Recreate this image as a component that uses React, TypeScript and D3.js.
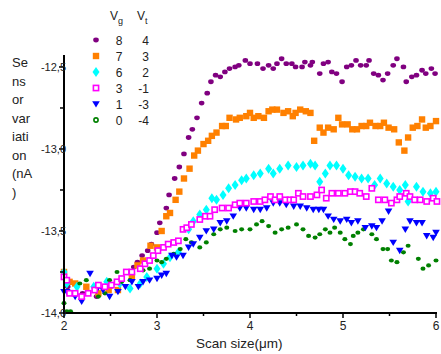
import React from "react";
import * as d3 from "d3";

const vgLabels = ["8", "7", "6", "3", "1", "0"];
const vtLabels = ["4", "3", "2", "-1", "-3", "-4"];
const yTicks = [-12.5, -13.0, -13.5, -14.0];
const yTickLabels = ["-12,5", "-13,0", "-13,5", "-14,0"];
const yMinorTicks = [-12.75, -13.25, -13.75];
const xTicks = [2, 3, 4, 5, 6];
const xMinorTicks = [2.5, 3.5, 4.5, 5.5];
const yTitleLines = ["Se", "ns", "or", "var", "iati", "on", "(nA", ")"];

const purple: [number, number][] = [
  [2.04, -13.84], [2.2, -13.88], [2.35, -13.9], [2.5, -13.84], [2.62, -13.79],
  [2.75, -13.72], [2.79, -13.69], [2.84, -13.65], [2.9, -13.62], [2.94, -13.58],
  [3.0, -13.51], [3.03, -13.45], [3.1, -13.36], [3.13, -13.28], [3.19, -13.18],
  [3.24, -13.11], [3.29, -13.03], [3.34, -12.93], [3.38, -12.88], [3.43, -12.81],
  [3.48, -12.72], [3.54, -12.66], [3.58, -12.59], [3.63, -12.55], [3.68, -12.56],
  [3.73, -12.53], [3.78, -12.51], [3.84, -12.5], [3.88, -12.49], [3.95, -12.46],
  [4.0, -12.48], [4.08, -12.48], [4.14, -12.51], [4.2, -12.49], [4.25, -12.51],
  [4.29, -12.48], [4.34, -12.45], [4.39, -12.48], [4.45, -12.48], [4.49, -12.5],
  [4.56, -12.5], [4.59, -12.47], [4.65, -12.49], [4.67, -12.47], [4.75, -12.54],
  [4.79, -12.48], [4.84, -12.47], [4.88, -12.53], [4.93, -12.54], [4.99, -12.59],
  [5.04, -12.5], [5.09, -12.49], [5.14, -12.46], [5.19, -12.49], [5.25, -12.49],
  [5.28, -12.46], [5.33, -12.54], [5.38, -12.55], [5.43, -12.58], [5.48, -12.54],
  [5.54, -12.49], [5.58, -12.45], [5.65, -12.5], [5.68, -12.59], [5.74, -12.56],
  [5.79, -12.55], [5.85, -12.52], [5.89, -12.54], [5.95, -12.51], [5.99, -12.54],
];

const orange: [number, number][] = [
  [2.0, -13.75], [2.06, -13.81], [2.12, -13.82], [2.24, -13.84], [2.37, -13.88],
  [2.48, -13.86], [2.58, -13.86], [2.73, -13.78], [2.79, -13.71], [2.85, -13.68],
  [2.93, -13.59], [3.0, -13.6], [3.05, -13.5], [3.1, -13.41], [3.14, -13.39],
  [3.2, -13.31], [3.24, -13.26], [3.29, -13.18], [3.35, -13.12], [3.4, -13.04],
  [3.44, -13.01], [3.5, -12.97], [3.55, -12.95], [3.59, -12.92], [3.64, -12.9],
  [3.7, -12.86], [3.74, -12.86], [3.78, -12.81], [3.85, -12.82], [3.89, -12.81],
  [3.96, -12.8], [4.0, -12.78], [4.04, -12.81], [4.09, -12.8], [4.15, -12.81],
  [4.2, -12.77], [4.24, -12.76], [4.29, -12.76], [4.36, -12.78], [4.41, -12.77],
  [4.46, -12.8], [4.49, -12.78], [4.54, -12.76], [4.6, -12.77], [4.65, -12.78],
  [4.69, -12.95], [4.75, -12.87], [4.79, -12.9], [4.84, -12.87], [4.9, -12.88],
  [4.95, -12.81], [4.99, -12.85], [5.05, -12.85], [5.1, -12.88], [5.15, -12.88],
  [5.2, -12.86], [5.25, -12.86], [5.29, -12.84], [5.35, -12.86], [5.4, -12.86],
  [5.44, -12.84], [5.49, -12.87], [5.55, -12.88], [5.6, -12.96], [5.66, -13.01],
  [5.7, -12.93], [5.75, -12.87], [5.8, -12.86], [5.85, -12.82], [5.89, -12.87],
  [5.94, -12.86], [6.0, -12.83],
];

const cyan: [number, number][] = [
  [2.0, -13.75], [2.03, -13.82], [2.14, -13.84], [2.32, -13.84], [2.46, -13.81],
  [2.6, -13.82], [2.71, -13.85], [2.82, -13.82], [2.89, -13.78], [3.0, -13.73],
  [3.07, -13.7], [3.14, -13.66], [3.23, -13.63], [3.34, -13.49], [3.39, -13.44],
  [3.46, -13.4], [3.53, -13.37], [3.59, -13.3], [3.64, -13.31], [3.71, -13.28],
  [3.77, -13.24], [3.84, -13.22], [3.91, -13.19], [3.96, -13.18], [4.04, -13.16],
  [4.11, -13.15], [4.2, -13.12], [4.25, -13.15], [4.32, -13.12], [4.41, -13.1],
  [4.5, -13.11], [4.57, -13.1], [4.65, -13.09], [4.7, -13.1], [4.75, -13.2],
  [4.81, -13.15], [4.86, -13.1], [4.93, -13.1], [5.0, -13.12], [5.06, -13.16],
  [5.13, -13.17], [5.2, -13.18], [5.27, -13.18], [5.34, -13.22], [5.4, -13.18],
  [5.47, -13.21], [5.54, -13.23], [5.61, -13.25], [5.67, -13.22], [5.7, -13.32],
  [5.79, -13.23], [5.86, -13.26], [5.94, -13.27], [6.0, -13.26],
];

const magenta: [number, number][] = [
  [2.0, -13.78], [2.03, -13.8], [2.06, -13.88], [2.12, -13.88], [2.19, -13.9],
  [2.26, -13.88], [2.33, -13.86], [2.37, -13.83], [2.44, -13.84], [2.51, -13.83],
  [2.57, -13.81], [2.62, -13.79], [2.67, -13.75], [2.73, -13.75], [2.82, -13.73],
  [2.87, -13.7], [2.92, -13.68], [2.96, -13.65], [3.01, -13.62], [3.07, -13.6],
  [3.12, -13.58], [3.18, -13.57], [3.23, -13.56], [3.28, -13.49], [3.32, -13.48],
  [3.37, -13.46], [3.46, -13.43], [3.52, -13.41], [3.57, -13.41], [3.62, -13.37],
  [3.7, -13.36], [3.77, -13.36], [3.84, -13.34], [3.89, -13.33], [3.96, -13.33],
  [4.04, -13.32], [4.11, -13.32], [4.16, -13.31], [4.22, -13.29], [4.27, -13.31],
  [4.32, -13.29], [4.38, -13.31], [4.43, -13.31], [4.47, -13.31], [4.52, -13.27],
  [4.57, -13.29], [4.65, -13.29], [4.72, -13.28], [4.77, -13.25], [4.82, -13.3],
  [4.88, -13.27], [4.95, -13.27], [5.02, -13.27], [5.08, -13.26], [5.13, -13.26],
  [5.18, -13.27], [5.25, -13.29], [5.31, -13.24], [5.38, -13.31], [5.45, -13.31],
  [5.52, -13.33], [5.58, -13.31], [5.61, -13.29], [5.68, -13.27], [5.72, -13.29],
  [5.77, -13.31], [5.83, -13.31], [5.9, -13.32], [5.97, -13.3], [6.01, -13.32],
];

const blue: [number, number][] = [
  [2.0, -13.87], [2.03, -13.87], [2.12, -13.9], [2.19, -13.93], [2.28, -13.76],
  [2.35, -13.86], [2.42, -13.86], [2.49, -13.9], [2.58, -13.87], [2.66, -13.84],
  [2.73, -13.81], [2.8, -13.84], [2.85, -13.81], [2.92, -13.8], [3.0, -13.79],
  [3.05, -13.77], [3.1, -13.76], [3.16, -13.65], [3.21, -13.66], [3.28, -13.65],
  [3.34, -13.6], [3.39, -13.58], [3.46, -13.54], [3.53, -13.5], [3.61, -13.49],
  [3.68, -13.45], [3.75, -13.44], [3.82, -13.41], [3.89, -13.36], [3.96, -13.36],
  [4.04, -13.37], [4.11, -13.37], [4.18, -13.36], [4.25, -13.33], [4.32, -13.33],
  [4.39, -13.34], [4.47, -13.35], [4.54, -13.35], [4.61, -13.36], [4.68, -13.37],
  [4.74, -13.37], [4.79, -13.37], [4.84, -13.41], [4.9, -13.43], [4.97, -13.44],
  [5.04, -13.43], [5.09, -13.45], [5.16, -13.44], [5.24, -13.48], [5.31, -13.47],
  [5.36, -13.48], [5.42, -13.44], [5.49, -13.38], [5.54, -13.57], [5.61, -13.62],
  [5.67, -13.49], [5.72, -13.44], [5.79, -13.45], [5.85, -13.45], [5.9, -13.53],
  [5.97, -13.54], [6.0, -13.51],
];

const green: [number, number][] = [
  [2.0, -13.94], [2.03, -13.99], [2.07, -13.99], [2.17, -13.82], [2.24, -13.8],
  [2.37, -13.9], [2.44, -13.88], [2.49, -13.8], [2.57, -13.75], [2.62, -13.81],
  [2.71, -13.8], [2.85, -13.74], [2.92, -13.73], [3.0, -13.68], [3.05, -13.69],
  [3.1, -13.67], [3.18, -13.64], [3.25, -13.61], [3.31, -13.55], [3.37, -13.57],
  [3.46, -13.6], [3.53, -13.57], [3.61, -13.52], [3.68, -13.49], [3.75, -13.48],
  [3.84, -13.5], [3.91, -13.49], [4.0, -13.49], [4.07, -13.46], [4.13, -13.44],
  [4.2, -13.47], [4.27, -13.51], [4.34, -13.49], [4.41, -13.48], [4.5, -13.46],
  [4.57, -13.49], [4.63, -13.53], [4.7, -13.54], [4.75, -13.52], [4.81, -13.49],
  [4.86, -13.51], [4.91, -13.48], [4.97, -13.51], [5.02, -13.55], [5.08, -13.58],
  [5.11, -13.53], [5.16, -13.51], [5.22, -13.49], [5.31, -13.52], [5.36, -13.55],
  [5.43, -13.61], [5.48, -13.61], [5.52, -13.68], [5.58, -13.69], [5.65, -13.63],
  [5.7, -13.59], [5.81, -13.67], [5.86, -13.73], [5.92, -13.71], [6.0, -13.68],
];

const W = 441;
const H = 354;
const x = d3.scaleLinear().domain([2, 6]).range([64, 436]);
const y = d3.scaleLinear().domain([-14, -12.427]).range([313, 55]);

const COL = {
  purple: "#800080",
  orange: "#FF8000",
  cyan: "#00FFFF",
  magenta: "#FF00FF",
  blue: "#0000FF",
  green: "#008000",
};

type MarkerKind = "circle" | "square" | "diamond" | "osquare" | "tri" | "ocircle" | "gdot";

function Marker({ kind, cx, cy, color }: { kind: MarkerKind; cx: number; cy: number; color: string }) {
  switch (kind) {
    case "circle":
      return <ellipse cx={cx} cy={cy} rx={2.8} ry={2.4} fill={color} />;
    case "square":
      return <rect x={cx - 3.2} y={cy - 3.2} width={6.4} height={6.4} fill={color} />;
    case "diamond": {
      const sym = d3.symbol().type(d3.symbolDiamond).size(32)();
      return <path d={sym || ""} transform={`translate(${cx},${cy}) scale(1.15,0.95)`} fill={color} />;
    }
    case "osquare":
      return <rect x={cx - 2.6} y={cy - 2.6} width={5.2} height={5.2} fill="white" stroke={color} strokeWidth={1.6} />;
    case "tri":
      return <path d={`M${cx - 3.8},${cy - 2.8}L${cx + 3.8},${cy - 2.8}L${cx},${cy + 3.6}Z`} fill={color} />;
    case "ocircle":
      return <circle cx={cx} cy={cy} r={2.1} fill="white" stroke={color} strokeWidth={1.6} />;
    case "gdot":
      return <ellipse cx={cx} cy={cy} rx={2.5} ry={2.1} fill={color} />;
  }
  return null;
}

const series: { data: [number, number][]; kind: MarkerKind; color: string }[] = [
  { data: purple, kind: "circle", color: COL.purple },
  { data: orange, kind: "square", color: COL.orange },
  { data: cyan, kind: "diamond", color: COL.cyan },
  { data: green, kind: "gdot", color: COL.green },
  { data: blue, kind: "tri", color: COL.blue },
  { data: magenta, kind: "osquare", color: COL.magenta },
];

const legendKinds: { kind: MarkerKind; color: string }[] = [
  { kind: "circle", color: COL.purple },
  { kind: "square", color: COL.orange },
  { kind: "diamond", color: COL.cyan },
  { kind: "osquare", color: COL.magenta },
  { kind: "tri", color: COL.blue },
  { kind: "ocircle", color: COL.green },
];

export default function App() {
  const font = "Liberation Sans, Arial, sans-serif";
  return (
    <svg
      width={W}
      height={H}
      style={{ position: "absolute", left: 0, top: 0, background: "white" }}
      fontFamily={font}
    >
      <rect width={W} height={H} fill="white" />
      {series.map((s, i) => (
        <g key={i}>
          {s.data.map((d, j) => (
            <Marker key={j} kind={s.kind} cx={x(d[0])} cy={y(d[1])} color={s.color} />
          ))}
        </g>
      ))}
      {/* axes */}
      <line x1={x(2)} x2={x(2)} y1={y.range()[1]} y2={y(-14) + 1} stroke="black" strokeWidth={2} />
      <line x1={x(2) - 1} x2={x(6) + 1} y1={y(-14)} y2={y(-14)} stroke="black" strokeWidth={2} />
      {yTicks.map((t, i) => (
        <g key={"yt" + i}>
          <line x1={x(2) - 5} x2={x(2)} y1={y(t)} y2={y(t)} stroke="black" strokeWidth={1.5} />
          <text x={x(2) + 2} y={y(t) + 4} textAnchor="end" fontSize={11} fill="#222">
            {yTickLabels[i]}
          </text>
        </g>
      ))}
      {yMinorTicks.map((t, i) => (
        <line key={"ym" + i} x1={x(2) - 4} x2={x(2)} y1={y(t)} y2={y(t)} stroke="black" strokeWidth={1.5} />
      ))}
      {xTicks.map((t, i) => (
        <g key={"xt" + i}>
          <line x1={x(t)} x2={x(t)} y1={y(-14)} y2={y(-14) + 5} stroke="black" strokeWidth={1.5} />
          <text x={x(t)} y={y(-14) + 17} textAnchor="middle" fontSize={12} fill="#222">
            {t}
          </text>
        </g>
      ))}
      {xMinorTicks.map((t, i) => (
        <line key={"xm" + i} x1={x(t)} x2={x(t)} y1={y(-14)} y2={y(-14) + 3} stroke="black" strokeWidth={1.5} />
      ))}
      {/* axis titles */}
      <text x={196} y={348} fontSize={13.5} fill="#222">
        Scan size(μm)
      </text>
      {yTitleLines.map((l, i) => (
        <text key={"yl" + i} x={12} y={67 + i * 18.5} fontSize={13} fill="#222">
          {l}
        </text>
      ))}
      {/* legend */}
      <text x={110} y={20} fontSize={12} fill="#222">
        V<tspan dy={4} fontSize={9}>g</tspan>
      </text>
      <text x={137} y={20} fontSize={12} fill="#222">
        V<tspan dy={4} fontSize={9}>t</tspan>
      </text>
      {legendKinds.map((k, i) => {
        const cy = 40 + i * 16;
        return (
          <g key={"lg" + i}>
            <Marker kind={k.kind} cx={96} cy={cy} color={k.color} />
            <text x={119} y={cy + 4.5} textAnchor="middle" fontSize={12} fill="#222">
              {vgLabels[i]}
            </text>
            <text x={149} y={cy + 4.5} textAnchor="end" fontSize={12} fill="#222">
              {vtLabels[i]}
            </text>
          </g>
        );
      })}
    </svg>
  );
}
